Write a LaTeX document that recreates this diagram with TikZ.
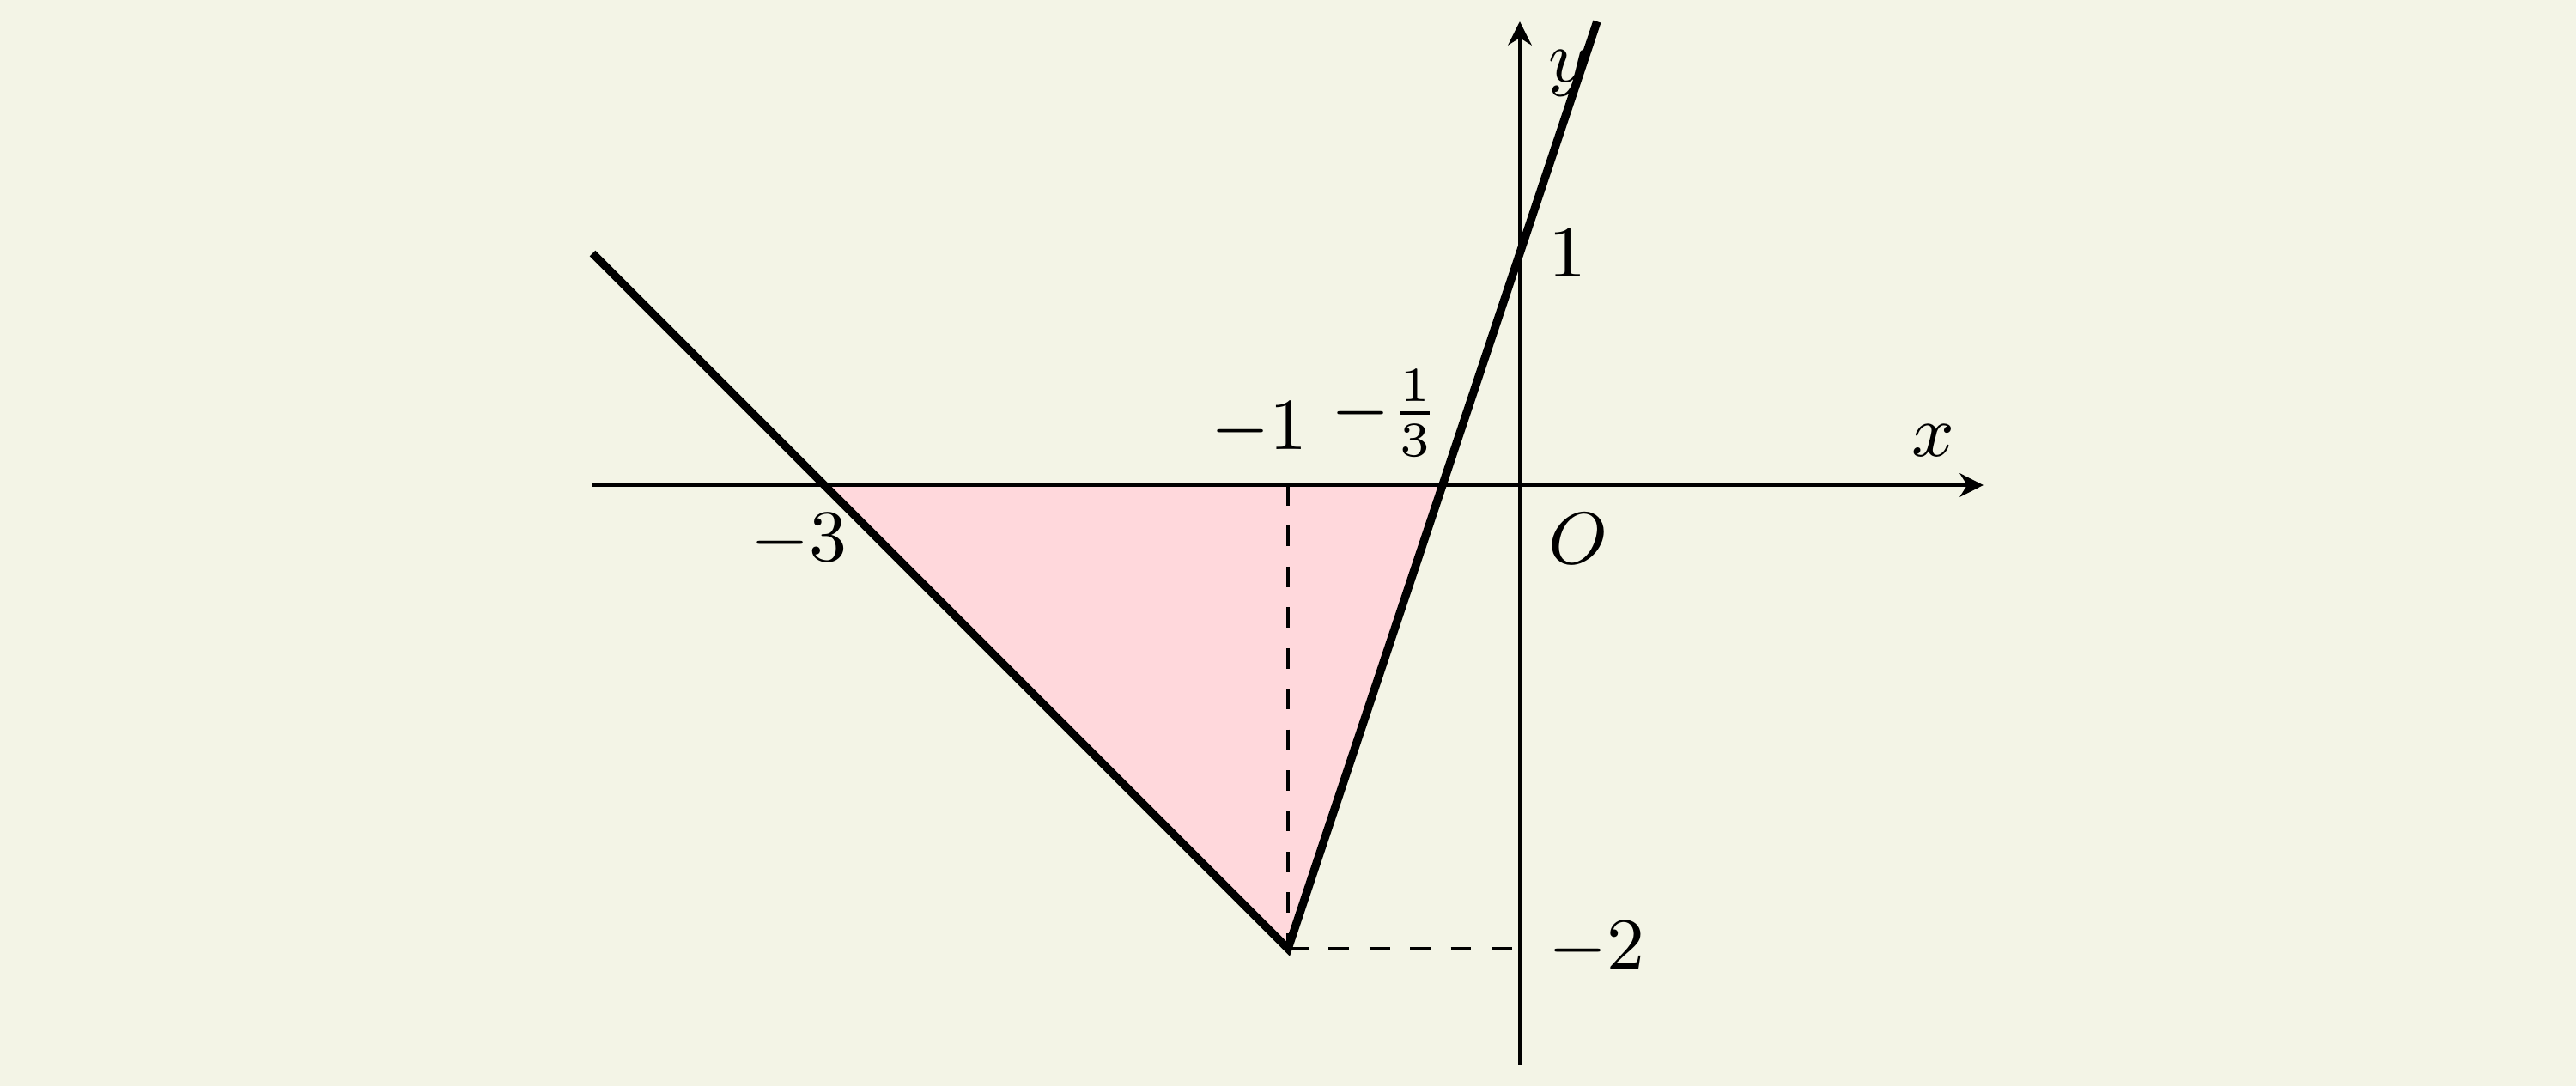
\documentclass[tikz,border=0pt]{standalone}
\usetikzlibrary{arrows.meta}
\definecolor{bgcol}{RGB}{243,244,230}
\definecolor{fillcol}{RGB}{255,216,220}
\begin{document}
\begin{tikzpicture}[
  axis/.style={line width=0.4pt,-{Stealth[length=2.9pt,width=2.9pt,inset=0.9pt]}},
  graphline/.style={line width=1pt},
  helpline/.style={line width=0.35pt,dash pattern=on 2.5pt off 2.5pt},
  lbl/.style={font=\fontsize{9}{11}\selectfont}
]
\fill[bgcol] (-6.556,-2.593) rectangle (4.556,2.093);
\useasboundingbox (-6.556,-2.593) rectangle (4.556,2.093);
\coordinate (O) at (0,0);
\coordinate (A) at (-3,0);
\coordinate (B) at (-1,-2);
\coordinate (C) at (-1/3,0);
\coordinate (L) at (-4,1);
\coordinate (R) at (1/3,2);
\coordinate (Bx) at (-1,0);
\coordinate (By) at (0,-2);
\coordinate (xs) at (-4,0);
\coordinate (xe) at (2,0);
\coordinate (ys) at (0,-2.5);
\coordinate (ye) at (0,2);
\fill[fillcol] (A) -- (B) -- (C) -- cycle;
\draw[axis] (xs) -- (xe);
\draw[axis] (ys) -- (ye);
\draw[helpline] (Bx) -- (B);
\draw[helpline] (B) -- (By);
\draw[graphline] (L) -- (B) -- (R);
\node[lbl,above left] (xl) at (xe) {$x$};
\node[lbl,below right] (yl) at (ye) {$y$};
\node[lbl,below right] (ol) at (O) {$O$};
\node[lbl,right] (l1) at (0,1) {$1$};
\node[lbl,right] (lm2) at (By) {$-2$};
\node[lbl,above,inner sep=1pt] (lm1) at (-1.125,0.082) {$-1$};
\node[lbl,above,inner sep=1pt] (lm13) at (-0.58,0.082) {$-\frac{1}{3}$};
\node[lbl,below] (lm3) at (-3.11,0) {$-3$};
\end{tikzpicture}
\end{document}
